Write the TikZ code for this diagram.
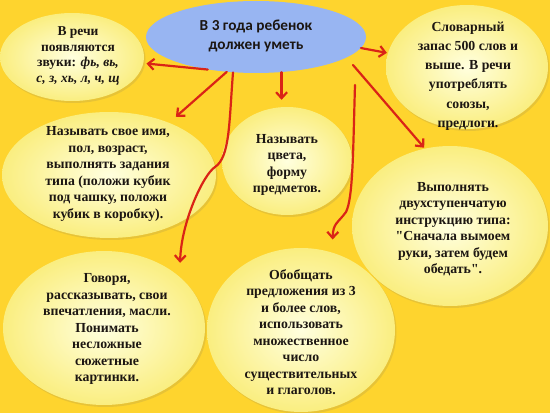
\documentclass[tikz,border=0pt]{standalone}
\usepackage{fontspec}
\setmainfont{Liberation Serif}
\newfontfamily\calib{Carlito}
\newfontfamily\qf{Liberation Serif}[Ligatures=TeXOff]
\usetikzlibrary{shapes.geometric,arrows.meta,shadows}
\definecolor{bg}{RGB}{254,212,46}
\definecolor{bubin}{RGB}{255,255,222}
\definecolor{bubout}{RGB}{250,238,128}
\definecolor{blue1}{RGB}{152,181,242}
\definecolor{arrred}{RGB}{218,36,22}
\definecolor{ink}{RGB}{28,22,18}
\newcommand{\sq}{{\qf\bfseries"}}
\begin{document}
\begin{tikzpicture}[x=1pt,y=1pt,
  bubble/.style={ellipse, inner sep=0pt, draw=none, inner color=bubin, outer color=bubout,
    drop shadow={opacity=0.15, shadow xshift=1.5pt, shadow yshift=-2pt, fill=black!60}},
  txt/.style={align=center, text=ink, font=\bfseries\fontsize{13.8}{16.5}\selectfont},
  btxt/.style={align=center, text=ink, font=\calib\bfseries\fontsize{15.3}{19}\selectfont},
  arr/.style={draw=arrred, line width=2.2pt, line cap=round,
    -{Straight Barb[length=6pt,width=11pt,line width=2.2pt]}}
]
\fill[bg] (0,0) rectangle (550,413);
\useasboundingbox (0,0) rectangle (550,413);

% bubbles
\node[bubble, minimum width=144, minimum height=88] (e1) at (72,356) {};
\node[bubble, minimum width=162, minimum height=124] (e2) at (467,346) {};
\node[bubble, minimum width=214, minimum height=126] (e3) at (109,238) {};
\node[bubble, minimum width=130, minimum height=108] (e4) at (287,252) {};
\node[bubble, minimum width=196, minimum height=160] (e5) at (450,187) {};
\node[bubble, minimum width=202, minimum height=154] (e6) at (104,85) {};
\node[bubble, minimum width=188, minimum height=164] (e7) at (301,83) {};
\node[ellipse, fill=blue1, draw=none, inner sep=0pt, minimum width=220, minimum height=72] (c) at (256,376) {};

% texts
\node[btxt] (ct) at (256,377) {В 3 года ребенок\\должен уметь};
\node[txt, font=\bfseries\fontsize{13.5}{15.5}\selectfont] (t1) at (78,357)
  {В речи\\появляются\\звуки: \textit{фь, вь,}\\\textit{с, з, хь, л, ч, щ}};
\node[txt, font=\bfseries\fontsize{13.8}{19.2}\selectfont] (t2) at (468,337)
  {Словарный\\запас 500 слов и\\выше. В речи\\употреблять\\союзы,\\предлоги.};
\node[txt] (t3) at (108,239)
  {Называть свое имя,\\пол, возраст,\\выполнять задания\\типа (положи кубик\\под чашку, положи\\кубик в коробку).};
\node[txt] (t4) at (287,248) {Называть\\цвета,\\форму\\предметов.};
\node[txt] (t5) at (453,184)
  {Выполнять\\двухступенчатую\\инструкцию типа:\\\sq Сначала вымоем\\руки, затем будем\\обедать\sq.};
\node[txt] (t6) at (107,84)
  {Говоря,\\рассказывать, свои\\впечатления, масли.\\Понимать\\несложные\\сюжетные\\картинки.};
\node[txt] (t7) at (301,81)
  {Обобщать\\предложения из 3\\и более слов,\\использовать\\множественное\\число\\существительных\\и глаголов.};

% connectors
\coordinate (s5) at (355,328);
\coordinate (s7) at (353,348);
\draw[arr, shorten >=3pt] (c.214) -- (e1.-5);
\draw[arr, shorten >=9pt] (c.230) -- (e3.41);
\draw[arr, shorten >=14pt] (c.237) .. controls (229,290) and (230,256) .. (215,246)
  .. controls (203,238) and (181,190) .. (e6.34);
\draw[arr, shorten >=7pt] (c.306) -- (c.306 |- e4.north);
\draw[arr, shorten >=13pt] (s5) .. controls (353,260) and (353,215) .. (346,201)
  .. controls (338,190) and (333,190) .. (e7.68);
\draw[arr, shorten >=1pt] (c.-6) -- (e2.170);
\draw[arr, shorten >=1pt] (s7) -- (e5.108);
\end{tikzpicture}
\end{document}
